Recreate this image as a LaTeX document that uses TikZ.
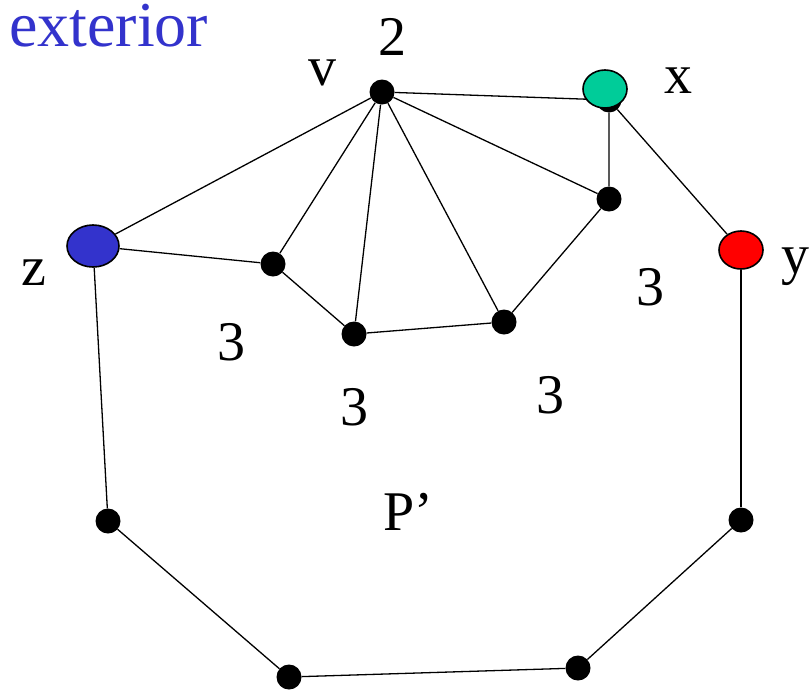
\documentclass[tikz,border=0pt]{standalone}
\usepackage{fontspec}
\setmainfont{Liberation Serif}
\usetikzlibrary{positioning, shapes.geometric}
\definecolor{extblue}{RGB}{51,51,204}
\definecolor{xgreen}{RGB}{0,204,153}
\tikzset{
    vtx/.style={circle, fill=black, inner sep=0pt, minimum size=25pt},
    colvtx/.style={ellipse, draw=black, line width=1.6pt, inner sep=0pt},
    lbl/.style={anchor=base, inner sep=0pt, font=\fontsize{56}{60}\selectfont},
    edge/.style={draw, line width=1.3pt}
}
\begin{document}
\begin{tikzpicture}[x=1pt, y=-1pt]
    \useasboundingbox (0,0) rectangle (810,691);
    % vertices
    \node[vtx] (v) at (382,92) {};
    \node[vtx] (xd) at (609,100) {};
    \node[vtx] (a) at (273,264) {};
    \node[vtx] (b) at (354,334) {};
    \node[vtx] (c) at (504,322) {};
    \node[vtx] (d) at (609,199) {};
    \node[vtx] (e) at (108,521) {};
    \node[vtx] (f) at (289,677) {};
    \node[vtx] (g) at (578,668) {};
    \node[vtx] (h) at (741,520) {};

    % edges
    \draw[edge] (v) -- (xd);
    \draw[edge] (v) -- (a);
    \draw[edge] (v) -- (b);
    \draw[edge] (v) -- (c);
    \draw[edge] (v) -- (d);
    \draw[edge] (a) -- (b) -- (c) -- (d) -- (xd);
    \draw[edge] (e) -- (f) -- (g) -- (h);

    % coloured vertices
    \node[colvtx, fill=xgreen, minimum width=44pt, minimum height=38pt] (x) at (605,89) {};
    \node[colvtx, fill=red, minimum width=44pt, minimum height=38pt] (y) at (741,250) {};
    \node[colvtx, fill=extblue, minimum width=52pt, minimum height=42pt] (z) at (93,246) {};
    \draw[edge] (xd) -- (y);
    \draw[edge] (y) -- (h);
    \draw[edge] (z) -- (v);
    \draw[edge] (z) -- (a);
    \draw[edge] (z) -- (e);

    % labels
    \node[lbl] (lv) at (322,85) {v};
    \node[lbl] (l2) at (392,55) {2};
    \node[lbl] (lx) at (678,93) {x};
    \node[lbl] (ly) at (795,273) {y};
    \node[lbl] (lz) at (34,285) {z};
    \node[lbl] (l3a) at (231,360) {3};
    \node[lbl] (l3b) at (354,425) {3};
    \node[lbl] (l3c) at (550,413) {3};
    \node[lbl] (l3d) at (650,305) {3};
    \node[lbl] (lp) at (408,530) {P'};
    \node[anchor=base west, inner sep=0pt, text height=40pt, text depth=0pt, text=extblue, font=\fontsize{64}{70}\selectfont] (ext) at (9,46) {exterior};
\end{tikzpicture}
\end{document}
